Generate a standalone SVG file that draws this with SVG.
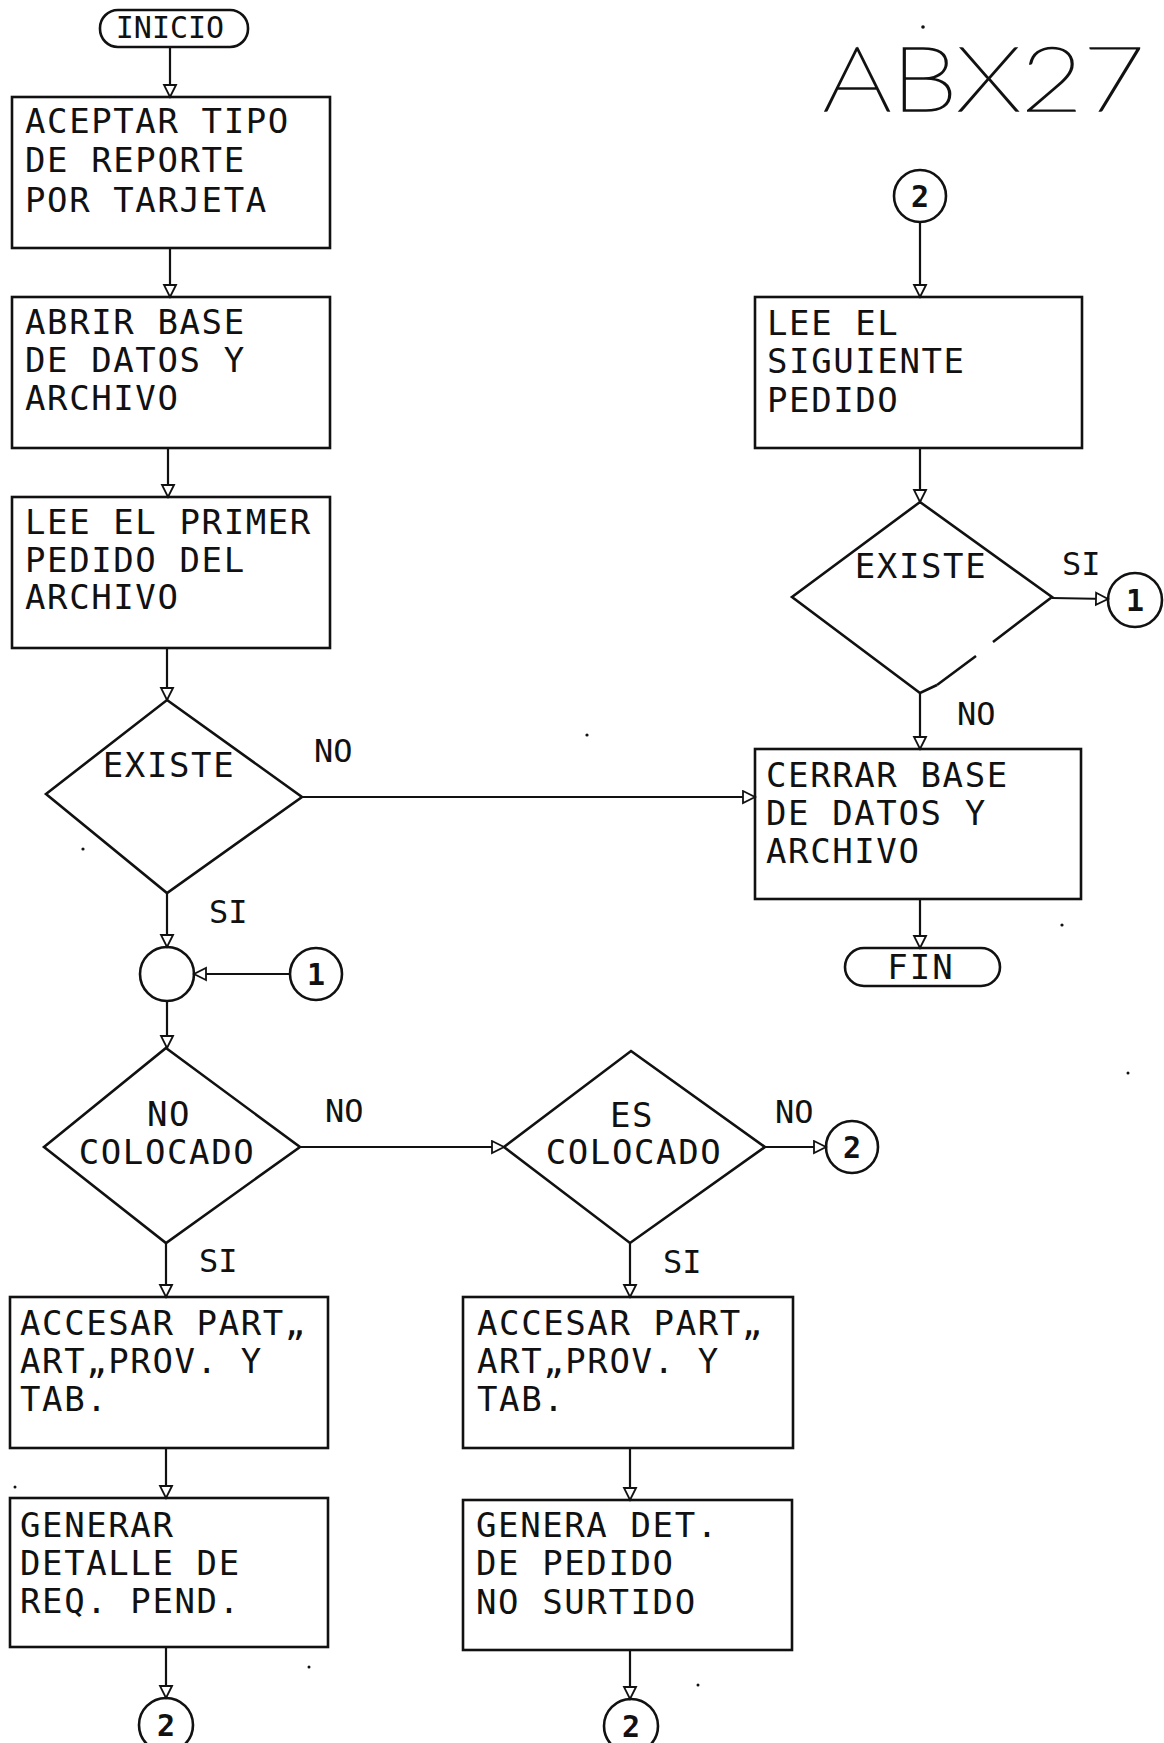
<svg xmlns="http://www.w3.org/2000/svg" width="1164" height="1743" viewBox="0 0 1164 1743">
<style>
.shape{fill:none;stroke:#111;stroke-width:2.6;stroke-linejoin:miter}
.line{fill:none;stroke:#111;stroke-width:2.2}
.t{font-family:"DejaVu Sans Mono","Liberation Mono",monospace;font-size:34px;letter-spacing:1.6px;fill:#111}
.lbl{font-family:"DejaVu Sans Mono","Liberation Mono",monospace;font-size:32px;fill:#111}
.c{text-anchor:middle}
.dig{font-family:"DejaVu Sans Mono","Liberation Mono",monospace;font-size:30px;font-weight:bold;fill:#111;text-anchor:middle}
.title{font-family:"Lato","Inter",sans-serif;font-weight:100;font-size:90px;fill:#111;stroke:#111;stroke-width:1.6}
.speck{fill:#111}
</style>
<defs>
<marker id="ah" markerUnits="userSpaceOnUse" markerWidth="16" markerHeight="16" refX="13" refY="7.5" orient="auto">
<path d="M1,1.5 L13,7.5 L1,13.5 Z" fill="#fff" stroke="#111" stroke-width="1.8"/>
</marker>
</defs>
<rect width="1164" height="1743" fill="#fff"/>

<text class="title" x="823" y="111" textLength="322" lengthAdjust="spacingAndGlyphs">ABX27</text>

<g id="specks">
<circle class="speck" cx="923" cy="27" r="1.8"/>
<circle class="speck" cx="587" cy="735" r="1.6"/>
<circle class="speck" cx="83" cy="849" r="1.6"/>
<circle class="speck" cx="1062" cy="925" r="1.6"/>
<circle class="speck" cx="1128" cy="1073" r="1.5"/>
<circle class="speck" cx="15" cy="1487" r="1.5"/>
<circle class="speck" cx="309" cy="1667" r="1.5"/>
<circle class="speck" cx="698" cy="1685" r="1.5"/>
</g>

<g id="connectors">
<line class="line" x1="170" y1="47" x2="170" y2="97" marker-end="url(#ah)"/>
<line class="line" x1="170" y1="248" x2="170" y2="297" marker-end="url(#ah)"/>
<line class="line" x1="168" y1="448" x2="168" y2="497" marker-end="url(#ah)"/>
<line class="line" x1="167" y1="648" x2="167" y2="700" marker-end="url(#ah)"/>
<line class="line" x1="302" y1="797" x2="755" y2="797" marker-end="url(#ah)"/>
<line class="line" x1="167" y1="893" x2="167" y2="947" marker-end="url(#ah)"/>
<line class="line" x1="289" y1="974" x2="194" y2="974" marker-end="url(#ah)"/>
<line class="line" x1="167" y1="1001" x2="167" y2="1048" marker-end="url(#ah)"/>
<line class="line" x1="300" y1="1147" x2="504" y2="1147" marker-end="url(#ah)"/>
<line class="line" x1="765" y1="1147" x2="826" y2="1147" marker-end="url(#ah)"/>
<line class="line" x1="166" y1="1243" x2="166" y2="1297" marker-end="url(#ah)"/>
<line class="line" x1="630" y1="1243" x2="630" y2="1297" marker-end="url(#ah)"/>
<line class="line" x1="166" y1="1448" x2="166" y2="1498" marker-end="url(#ah)"/>
<line class="line" x1="630" y1="1448" x2="630" y2="1500" marker-end="url(#ah)"/>
<line class="line" x1="166" y1="1647" x2="166" y2="1698" marker-end="url(#ah)"/>
<line class="line" x1="630" y1="1650" x2="630" y2="1699" marker-end="url(#ah)"/>
<line class="line" x1="920" y1="222" x2="920" y2="297" marker-end="url(#ah)"/>
<line class="line" x1="920" y1="448" x2="920" y2="502" marker-end="url(#ah)"/>
<line class="line" x1="1052" y1="598" x2="1108" y2="599" marker-end="url(#ah)"/>
<line class="line" x1="920" y1="693" x2="920" y2="749" marker-end="url(#ah)"/>
<line class="line" x1="920" y1="899" x2="920" y2="948" marker-end="url(#ah)"/>
</g>

<g id="inicio">
<rect class="shape" x="100" y="10" width="148" height="37" rx="18"/>
<text class="t c" x="170" y="38" style="font-size:30px;letter-spacing:0">INICIO</text>
</g>

<g id="box1">
<rect class="shape" x="12" y="97" width="318" height="151"/>
<text class="t" x="25" y="133">ACEPTAR TIPO</text>
<text class="t" x="25" y="172">DE REPORTE</text>
<text class="t" x="25" y="212">POR TARJETA</text>
</g>

<g id="box2">
<rect class="shape" x="12" y="297" width="318" height="151"/>
<text class="t" x="25" y="334">ABRIR BASE</text>
<text class="t" x="25" y="372">DE DATOS Y</text>
<text class="t" x="25" y="410">ARCHIVO</text>
</g>

<g id="box3">
<rect class="shape" x="12" y="497" width="318" height="151"/>
<text class="t" x="25" y="534">LEE EL PRIMER</text>
<text class="t" x="25" y="572">PEDIDO DEL</text>
<text class="t" x="25" y="609">ARCHIVO</text>
</g>

<g id="d1">
<polygon class="shape" points="167,700 302,797 167,893 46,794"/>
<text class="t c" x="169" y="777">EXISTE</text>
</g>
<text class="lbl" x="314" y="762">NO</text>
<text class="lbl" x="209" y="923">SI</text>

<g id="junction">
<circle class="shape" cx="167" cy="974" r="27"/>
</g>

<g id="c1left">
<circle class="shape" cx="316" cy="974" r="26"/>
<text class="dig" x="316" y="985">1</text>
</g>

<g id="d2">
<polygon class="shape" points="166,1048 300,1147 166,1243 44,1147"/>
<text class="t c" x="169" y="1126">NO</text>
<text class="t c" x="167" y="1164">COLOCADO</text>
</g>
<text class="lbl" x="325" y="1122">NO</text>
<text class="lbl" x="199" y="1272">SI</text>

<g id="d3">
<polygon class="shape" points="631,1051 765,1147 630,1243 504,1147"/>
<text class="t c" x="632" y="1127">ES</text>
<text class="t c" x="634" y="1164">COLOCADO</text>
</g>
<text class="lbl" x="775" y="1123">NO</text>
<text class="lbl" x="663" y="1273">SI</text>

<g id="c2mid">
<circle class="shape" cx="852" cy="1147" r="26"/>
<text class="dig" x="852" y="1158">2</text>
</g>

<g id="box4">
<rect class="shape" x="10" y="1297" width="318" height="151"/>
<text class="t" x="20" y="1335">ACCESAR PART„</text>
<text class="t" x="20" y="1373">ART„PROV. Y</text>
<text class="t" x="20" y="1411">TAB.</text>
</g>

<g id="box5">
<rect class="shape" x="10" y="1498" width="318" height="149"/>
<text class="t" x="20" y="1537">GENERAR</text>
<text class="t" x="20" y="1575">DETALLE DE</text>
<text class="t" x="20" y="1613">REQ. PEND.</text>
</g>

<g id="box6">
<rect class="shape" x="463" y="1297" width="330" height="151"/>
<text class="t" x="477" y="1335">ACCESAR PART„</text>
<text class="t" x="477" y="1373">ART„PROV. Y</text>
<text class="t" x="477" y="1411">TAB.</text>
</g>

<g id="box7">
<rect class="shape" x="463" y="1500" width="329" height="150"/>
<text class="t" x="476" y="1537">GENERA DET.</text>
<text class="t" x="476" y="1575">DE PEDIDO</text>
<text class="t" x="476" y="1614">NO SURTIDO</text>
</g>

<g id="c2bl">
<circle class="shape" cx="166" cy="1725" r="27"/>
<text class="dig" x="166" y="1736">2</text>
</g>

<g id="c2bm">
<circle class="shape" cx="631" cy="1726" r="27"/>
<text class="dig" x="631" y="1737">2</text>
</g>

<g id="c2top">
<circle class="shape" cx="920" cy="196" r="26"/>
<text class="dig" x="920" y="207">2</text>
</g>

<g id="box8">
<rect class="shape" x="755" y="297" width="327" height="151"/>
<text class="t" x="767" y="335">LEE EL</text>
<text class="t" x="767" y="373">SIGUIENTE</text>
<text class="t" x="767" y="412">PEDIDO</text>
</g>

<g id="d4">
<polyline class="shape" points="937,685 920,693 792,597 920,502 1052,597 993,642"/>
<line class="shape" x1="976" y1="656" x2="937" y2="685"/>
<text class="t c" x="921" y="578">EXISTE</text>
</g>
<text class="lbl" x="1062" y="575">SI</text>
<text class="lbl" x="957" y="725">NO</text>

<g id="c1right">
<circle class="shape" cx="1135" cy="600" r="27"/>
<text class="dig" x="1135" y="611">1</text>
</g>

<g id="box9">
<rect class="shape" x="755" y="749" width="326" height="150"/>
<text class="t" x="766" y="787">CERRAR BASE</text>
<text class="t" x="766" y="825">DE DATOS Y</text>
<text class="t" x="766" y="863">ARCHIVO</text>
</g>

<g id="fin">
<rect class="shape" x="845" y="948" width="155" height="38" rx="19"/>
<text class="t c" x="921" y="979" style="font-size:34px;letter-spacing:2px">FIN</text>
</g>
</svg>
